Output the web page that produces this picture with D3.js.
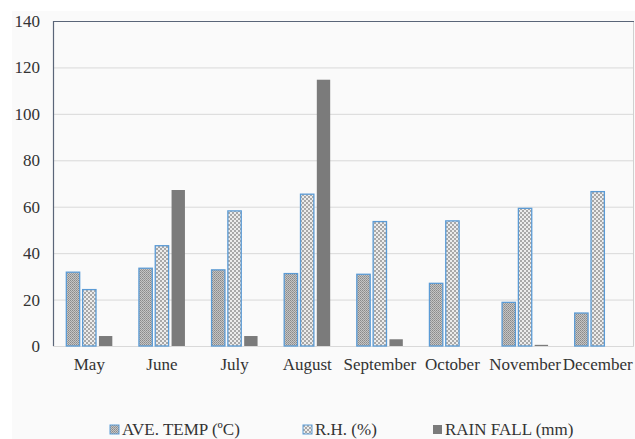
<!DOCTYPE html>
<html>
<head>
<meta charset="utf-8">
<script src="https://cdn.jsdelivr.net/npm/d3@7"></script>
<style>
  body { margin: 0; background: #fff; }
</style>
</head>
<body>
<svg id="canvas" width="635" height="439"></svg>
<script>
const mesi = ["May", "June", "July", "August", "September", "October", "November", "December"];
const serie = ["AVE. TEMP (ºC)", "R.H. (%)", "RAIN FALL (mm)"];
const temp = [31.8, 33.5, 32.8, 31.2, 30.9, 27.0, 18.8, 14.2];
const umidita = [24.3, 43.2, 58.2, 65.4, 53.6, 53.9, 59.3, 66.5];
const pioggia = [4.3, 67.2, 4.3, 114.7, 2.9, 0, 0.5, 0];
const tickY = [0, 20, 40, 60, 80, 100, 120, 140];

const svg = d3.select("#canvas");
const sx = 53, dx = 634, sy = 21, by = 346;
const fontSerif = "'Liberation Serif'";

// sfondo grigio chiaro
svg.append("rect").attr("x", 12).attr("y", 11).attr("width", 623).attr("height", 428).attr("fill", "#fafafa");

const defs = svg.append("defs");
// trama fitta per la temperatura
const p1 = defs.append("pattern").attr("id", "pTemp").attr("width", 2).attr("height", 2).attr("patternUnits", "userSpaceOnUse");
p1.append("rect").attr("width", 2).attr("height", 2).attr("fill", "#c4c4c4");
p1.append("rect").attr("width", 1).attr("height", 1).attr("fill", "#8a8a8a");
p1.append("rect").attr("x", 1).attr("y", 1).attr("width", 1).attr("height", 1).attr("fill", "#9a9a9a");
// scacchiera per l'umidità
const p2 = defs.append("pattern").attr("id", "pRH").attr("width", 4).attr("height", 4).attr("patternUnits", "userSpaceOnUse");
p2.append("rect").attr("width", 4).attr("height", 4).attr("fill", "#ececec");
p2.append("rect").attr("width", 2).attr("height", 2).attr("fill", "#a8a8a8");
p2.append("rect").attr("x", 2).attr("y", 2).attr("width", 2).attr("height", 2).attr("fill", "#a8a8a8");

const scalaX = d3.scaleBand().domain(mesi).range([sx, dx]);
const scalaY = d3.scaleLinear().domain([0, 140]).range([by, sy]);
const scalaSerie = d3.scaleBand().domain([0, 1, 2]).range([0, 46]).paddingInner(0.18);
const riempimenti = ["url(#pTemp)", "url(#pRH)", "#7b7b7b"];
const bordi = ["#5b9bd5", "#5b9bd5", "none"];

// griglia
svg.append("g").selectAll("line").data(tickY.slice(1, -1)).enter().append("line")
  .attr("x1", sx).attr("x2", dx)
  .attr("y1", d => scalaY(d) + 0.5).attr("y2", d => scalaY(d) + 0.5)
  .attr("stroke", "#d9d9d9").attr("stroke-width", 1);
svg.append("line").attr("x1", sx).attr("x2", dx).attr("y1", by + 0.5).attr("y2", by + 0.5)
  .attr("stroke", "#d9d9d9");
svg.append("line").attr("x1", dx - 0.5).attr("x2", dx - 0.5).attr("y1", sy).attr("y2", by)
  .attr("stroke", "#d0d0d0");
svg.append("line").attr("x1", sx).attr("x2", dx).attr("y1", sy + 0.5).attr("y2", sy + 0.5)
  .attr("stroke", "#5a6578").attr("stroke-width", 1.2);
svg.append("line").attr("x1", sx + 0.5).attr("x2", sx + 0.5).attr("y1", sy).attr("y2", by)
  .attr("stroke", "#5a6578").attr("stroke-width", 1.2);

// asse Y
const asseY = d3.axisLeft(scalaY).tickValues(tickY).tickSize(0).tickPadding(0);
const gY = svg.append("g").attr("transform", "translate(40,0)").call(asseY);
gY.select(".domain").remove();
gY.selectAll("text").style("font-family", fontSerif).style("font-size", "17px").attr("fill", "#333");

// asse X
const asseX = d3.axisBottom(scalaX).tickSize(0).tickPadding(0);
const gX = svg.append("g").attr("transform", `translate(0,${by + 12})`).call(asseX);
gX.select(".domain").remove();
gX.selectAll("text").style("font-family", fontSerif).style("font-size", "17px").attr("fill", "#333");

// barre
const datiBarre = [temp, umidita, pioggia];
datiBarre.forEach((valori, s) => {
  svg.append("g").selectAll("rect").data(valori).enter().append("rect")
    .attr("x", (d, i) => scalaX(mesi[i]) + scalaX.bandwidth() / 2 - 23 + scalaSerie(s))
    .attr("y", d => scalaY(d))
    .attr("width", scalaSerie.bandwidth())
    .attr("height", d => by - scalaY(d))
    .attr("fill", riempimenti[s])
    .attr("stroke", bordi[s])
    .attr("stroke-width", 1.3);
});

// legenda
const posLegenda = [110, 303, 433];
const leg = svg.append("g").selectAll("g").data(serie).enter().append("g")
  .attr("transform", (d, i) => `translate(${posLegenda[i]},425)`);
leg.append("rect").attr("width", 9).attr("height", 9)
  .attr("fill", (d, i) => riempimenti[i])
  .attr("stroke", (d, i) => bordi[i]).attr("stroke-width", 1);
leg.append("text").attr("x", 12).attr("y", 10)
  .style("font-family", fontSerif).style("font-size", "17px").attr("fill", "#333")
  .text(d => d);
</script>
</body>
</html>
